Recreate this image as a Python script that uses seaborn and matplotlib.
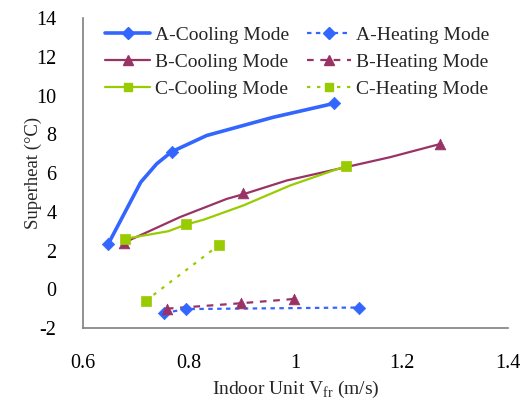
import matplotlib
matplotlib.use("Agg")
import matplotlib.pyplot as plt
import seaborn as sns
import pandas as pd
from matplotlib.lines import Line2D

sns.set_style("white")
plt.rcParams['font.family'] = ['Liberation Serif', 'DejaVu Serif']
plt.rcParams['mathtext.fontset'] = 'custom'
plt.rcParams['mathtext.rm'] = 'Liberation Serif'
plt.rcParams['axes.unicode_minus'] = False

# ---- data ----
a_cool_line_x = [0.648, 0.709, 0.739, 0.767, 0.833, 0.958, 1.073]
a_cool_line_y = [2.35, 5.53, 6.48, 7.10, 7.94, 8.88, 9.60]
a_cool_x = [0.648, 0.767, 1.073]
a_cool_y = [2.35, 7.10, 9.60]

b_cool_line_x = [0.677, 0.783, 0.871, 0.901, 0.984, 1.178, 1.272]
b_cool_line_y = [2.40, 3.73, 4.67, 4.90, 5.62, 6.82, 7.50]
b_cool_x = [0.677, 0.901, 1.272]
b_cool_y = [2.40, 4.95, 7.50]

c_cool_line_x = [0.680, 0.761, 0.795, 0.827, 0.902, 0.990, 1.095]
c_cool_line_y = [2.61, 3.00, 3.35, 3.59, 4.33, 5.36, 6.36]
c_cool_x = [0.680, 0.795, 1.095]
c_cool_y = [2.61, 3.35, 6.36]

a_heat_x = [0.753, 0.795, 1.120]
a_heat_y = [-1.22, -1.02, -0.94]
b_heat_x = [0.758, 0.897, 0.997]
b_heat_y = [-1.00, -0.72, -0.50]
c_heat_x = [0.718, 0.857]
c_heat_y = [-0.60, 2.30]

labels = ["A-Cooling Mode", "B-Cooling Mode", "C-Cooling Mode",
          "A-Heating Mode", "B-Heating Mode", "C-Heating Mode"]

BLUE = "#3366FF"
PLUM = "#993366"
GREEN = "#99CC00"

fig = plt.figure(figsize=(5.21, 4.03), dpi=100)
ax = fig.add_axes([0.159, 0.186, 0.816, 0.769])

def line(x, y, color, lw, ls):
    sns.lineplot(x=x, y=y, ax=ax, color=color, lw=lw, linestyle=ls,
                 sort=False, estimator=None, legend=False)

def pts(x, y, color, marker, s):
    sns.scatterplot(x=x, y=y, ax=ax, color=color, marker=marker, s=s,
                    edgecolor=color, linewidth=0.5, legend=False, zorder=5)

line(a_cool_line_x, a_cool_line_y, BLUE, 2.6, '-')
line(b_cool_line_x, b_cool_line_y, PLUM, 1.6, '-')
line(c_cool_line_x, c_cool_line_y, GREEN, 1.6, '-')
line(a_heat_x, a_heat_y, BLUE, 1.6, (0, (2, 2)))
line(b_heat_x, b_heat_y, PLUM, 1.6, (0, (3, 3)))
line(c_heat_x, c_heat_y, GREEN, 1.6, (0, (1.5, 3)))

pts(a_cool_x, a_cool_y, BLUE, 'D', 40)
pts(b_cool_x, b_cool_y, PLUM, '^', 60)
pts(c_cool_x, c_cool_y, GREEN, 's', 55)
pts(a_heat_x, a_heat_y, BLUE, 'D', 40)
pts(b_heat_x, b_heat_y, PLUM, '^', 60)
pts(c_heat_x, c_heat_y, GREEN, 's', 55)

ax.set_xlim(0.6, 1.4)
ax.set_ylim(-2, 14)
ax.set_xticks([0.6, 0.8, 1.0, 1.2, 1.4])
ax.set_xticklabels(["0.6", "0.8", "1", "1.2", "1.4"])
ax.set_yticks(list(range(-2, 15, 2)))
ax.tick_params(axis='both', direction='in', length=6, width=1, color='#7f7f7f',
               labelsize=14.5, labelcolor='black')
ax.tick_params(axis='x', pad=19)
ax.tick_params(axis='y', pad=19)
for side in ['top', 'right']:
    ax.spines[side].set_visible(False)
for side in ['left', 'bottom']:
    ax.spines[side].set_color('#7f7f7f')
    ax.spines[side].set_linewidth(1.2)

ax.set_xlabel(r"Indoor Unit V$_{\rm fr}$ (m/s)", fontsize=14, labelpad=4)
ax.set_ylabel("Superheat (°C)", fontsize=13.5, labelpad=-4)

handles = [
    Line2D([], [], color=BLUE, lw=2.6, marker='D', ms=6),
    Line2D([], [], color=PLUM, lw=1.6, marker='^', ms=7),
    Line2D([], [], color=GREEN, lw=1.6, marker='s', ms=6),
    Line2D([], [], color=BLUE, lw=1.6, ls=(0, (2, 2)), marker='D', ms=6),
    Line2D([], [], color=PLUM, lw=1.6, ls=(0, (3, 3)), marker='^', ms=7),
    Line2D([], [], color=GREEN, lw=1.6, ls=(0, (1.5, 3)), marker='s', ms=6),
]
ax.legend(handles, labels, ncol=2, frameon=False, fontsize=14,
          loc='upper left', bbox_to_anchor=(0.035, 1.0),
          handlelength=2.3, handletextpad=0.25, columnspacing=0.9,
          labelspacing=0.5, borderaxespad=0.0)

fig.savefig("out.png", dpi=100)
